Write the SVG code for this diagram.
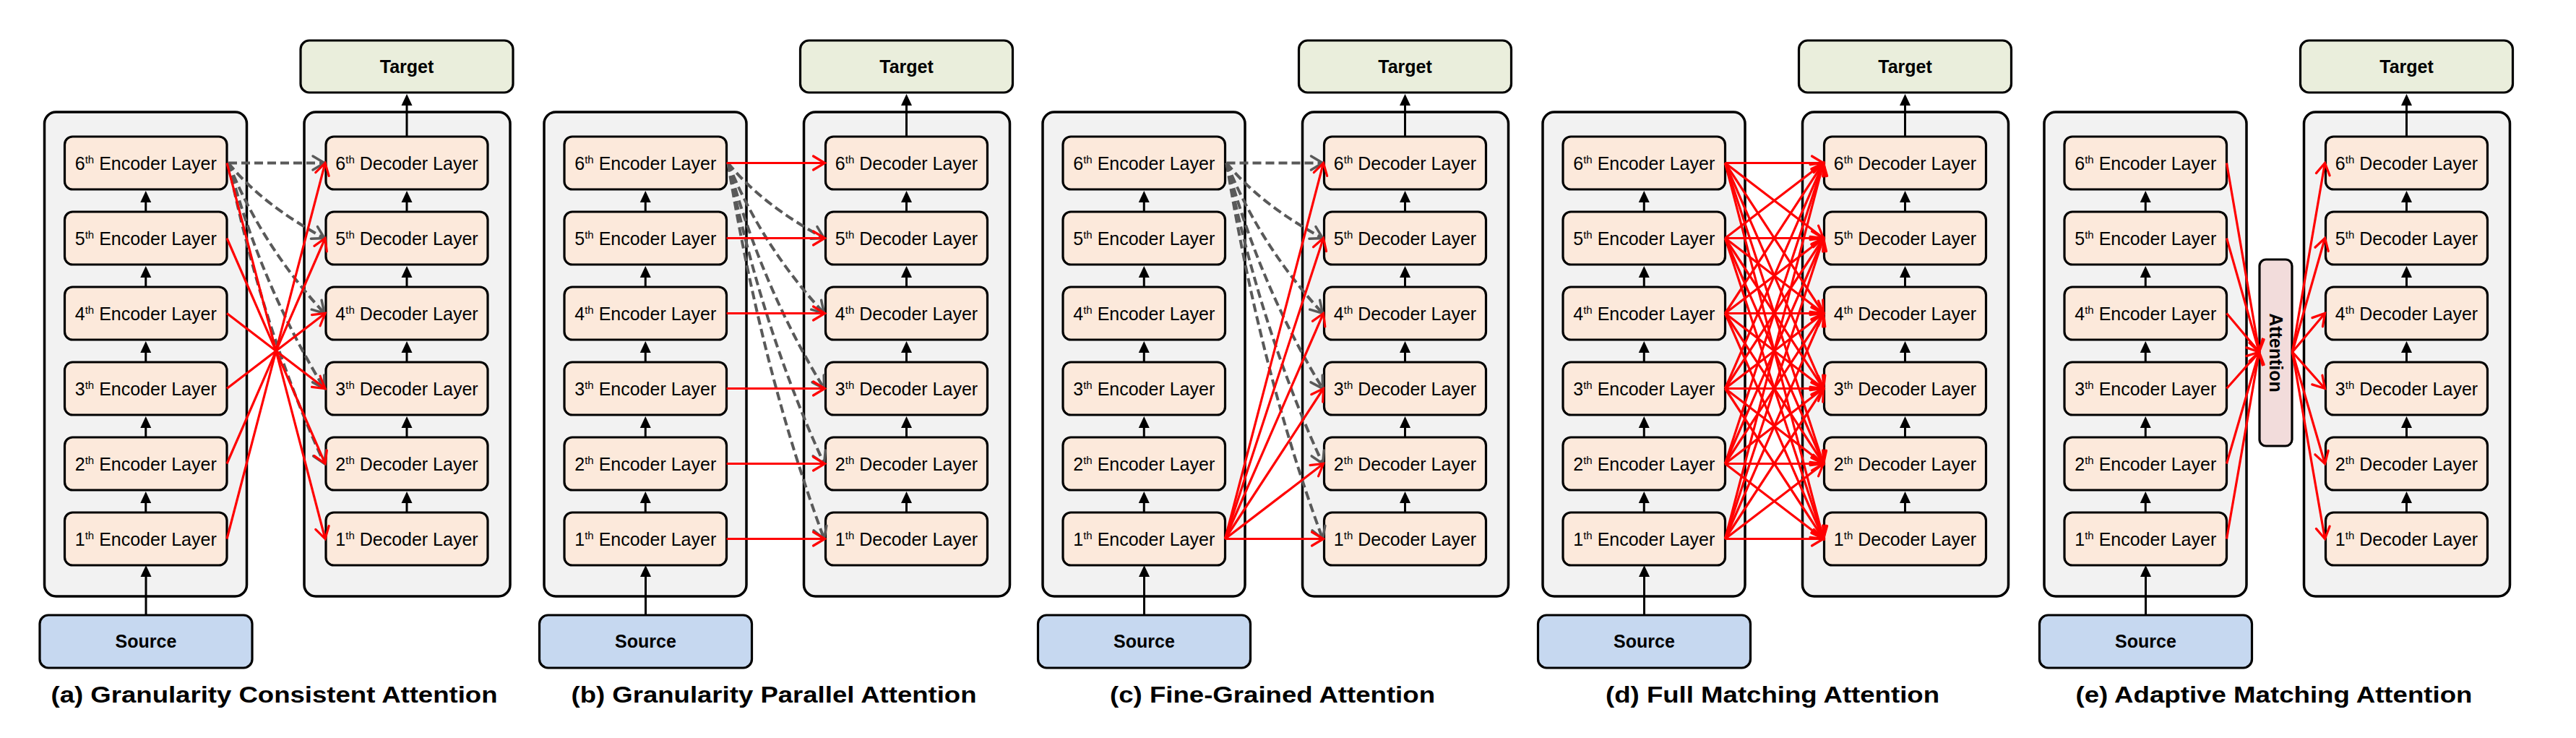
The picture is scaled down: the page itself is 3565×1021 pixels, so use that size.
<svg xmlns="http://www.w3.org/2000/svg" width="3565" height="1021" viewBox="0 0 3565 1021">
<style>
.bg{fill:#fff}
.cont{fill:#F2F2F2;stroke:#000;stroke-width:3.5}
.layer{fill:#FCE9DB;stroke:#000;stroke-width:3.2}
.tgt{fill:#EAEEDC;stroke:#000;stroke-width:3.2}
.src{fill:#C6D8F0;stroke:#000;stroke-width:3.2}
.att{fill:#F2DCDB;stroke:#000;stroke-width:3.2}
text{font-family:"Liberation Sans",Arial,Helvetica,sans-serif;fill:#000}
.lbl{font-size:25px;text-anchor:middle}
.sup{font-size:15px}
.bt{font-size:25px;font-weight:bold;text-anchor:middle}
.cap{font-size:32px;font-weight:bold;text-anchor:middle}
.up{stroke:#000;stroke-width:3;fill:none;marker-end:url(#ba)}
.red{stroke:#FF0000;stroke-width:3.2;fill:none;marker-end:url(#ra)}
.dash{stroke:#595959;stroke-width:4;stroke-dasharray:12 6;fill:none;marker-end:url(#ga)}
</style>
<defs>
<marker id="ba" markerUnits="userSpaceOnUse" viewBox="-20 -10 24 20" markerWidth="24" markerHeight="20" refX="-4" refY="0" orient="auto" overflow="visible"><path d="M0,0 L-16,-7.5 L-16,7.5 Z" fill="#000"/></marker>
<marker id="ra" markerUnits="userSpaceOnUse" viewBox="-20 -12 24 24" markerWidth="24" markerHeight="24" refX="0" refY="0" orient="auto" overflow="visible"><path d="M-16,-9.5 L0,0 L-16,9.5" fill="none" stroke="#FF0000" stroke-width="3.2" stroke-linecap="round"/></marker>
<marker id="ga" markerUnits="userSpaceOnUse" viewBox="-20 -12 24 24" markerWidth="24" markerHeight="24" refX="0" refY="0" orient="auto" overflow="visible"><path d="M-16,-9.5 L0,0 L-16,9.5" fill="none" stroke="#595959" stroke-width="3.5" stroke-linecap="round"/></marker>
</defs>
<rect class="bg" x="0" y="0" width="3565" height="1021"/>

<!-- ===== Panel (a) ===== -->
<g id="panel-a" transform="translate(0,0)">
<g id="a-enc-container"><rect class="cont" x="61.5" y="155" width="280" height="670" rx="16"/></g>
<g id="a-dec-container"><rect class="cont" x="421" y="155" width="285" height="670" rx="16"/></g>
<g id="a-target"><rect class="tgt" x="416" y="56" width="294" height="72" rx="12"/><text class="bt" x="563" y="101">Target</text></g>
<g id="a-source"><rect class="src" x="55" y="851" width="294" height="73" rx="12"/><text class="bt" x="202" y="896">Source</text></g>
<g id="a-enc6"><rect class="layer" x="89.5" y="189" width="224.5" height="73" rx="11"/><text class="lbl" x="201.75" y="235">6<tspan class="sup" dy="-9">th</tspan><tspan dy="9"> Encoder Layer</tspan></text></g>
<g id="a-enc5"><rect class="layer" x="89.5" y="293" width="224.5" height="73" rx="11"/><text class="lbl" x="201.75" y="339">5<tspan class="sup" dy="-9">th</tspan><tspan dy="9"> Encoder Layer</tspan></text></g>
<g id="a-enc4"><rect class="layer" x="89.5" y="397" width="224.5" height="73" rx="11"/><text class="lbl" x="201.75" y="443">4<tspan class="sup" dy="-9">th</tspan><tspan dy="9"> Encoder Layer</tspan></text></g>
<g id="a-enc3"><rect class="layer" x="89.5" y="501" width="224.5" height="73" rx="11"/><text class="lbl" x="201.75" y="547">3<tspan class="sup" dy="-9">th</tspan><tspan dy="9"> Encoder Layer</tspan></text></g>
<g id="a-enc2"><rect class="layer" x="89.5" y="605" width="224.5" height="73" rx="11"/><text class="lbl" x="201.75" y="651">2<tspan class="sup" dy="-9">th</tspan><tspan dy="9"> Encoder Layer</tspan></text></g>
<g id="a-enc1"><rect class="layer" x="89.5" y="709" width="224.5" height="73" rx="11"/><text class="lbl" x="201.75" y="755">1<tspan class="sup" dy="-9">th</tspan><tspan dy="9"> Encoder Layer</tspan></text></g>
<g id="a-dec6"><rect class="layer" x="451" y="189" width="224" height="73" rx="11"/><text class="lbl" x="563" y="235">6<tspan class="sup" dy="-9">th</tspan><tspan dy="9"> Decoder Layer</tspan></text></g>
<g id="a-dec5"><rect class="layer" x="451" y="293" width="224" height="73" rx="11"/><text class="lbl" x="563" y="339">5<tspan class="sup" dy="-9">th</tspan><tspan dy="9"> Decoder Layer</tspan></text></g>
<g id="a-dec4"><rect class="layer" x="451" y="397" width="224" height="73" rx="11"/><text class="lbl" x="563" y="443">4<tspan class="sup" dy="-9">th</tspan><tspan dy="9"> Decoder Layer</tspan></text></g>
<g id="a-dec3"><rect class="layer" x="451" y="501" width="224" height="73" rx="11"/><text class="lbl" x="563" y="547">3<tspan class="sup" dy="-9">th</tspan><tspan dy="9"> Decoder Layer</tspan></text></g>
<g id="a-dec2"><rect class="layer" x="451" y="605" width="224" height="73" rx="11"/><text class="lbl" x="563" y="651">2<tspan class="sup" dy="-9">th</tspan><tspan dy="9"> Decoder Layer</tspan></text></g>
<g id="a-dec1"><rect class="layer" x="451" y="709" width="224" height="73" rx="11"/><text class="lbl" x="563" y="755">1<tspan class="sup" dy="-9">th</tspan><tspan dy="9"> Decoder Layer</tspan></text></g>
<text class="cap" x="379.5" y="972" textLength="618" lengthAdjust="spacingAndGlyphs">(a) Granularity Consistent Attention</text>
</g>

<!-- ===== Panel (b) ===== -->
<g id="panel-b" transform="translate(691.5,0)">
<g id="b-enc-container"><rect class="cont" x="61.5" y="155" width="280" height="670" rx="16"/></g>
<g id="b-dec-container"><rect class="cont" x="421" y="155" width="285" height="670" rx="16"/></g>
<g id="b-target"><rect class="tgt" x="416" y="56" width="294" height="72" rx="12"/><text class="bt" x="563" y="101">Target</text></g>
<g id="b-source"><rect class="src" x="55" y="851" width="294" height="73" rx="12"/><text class="bt" x="202" y="896">Source</text></g>
<g id="b-enc6"><rect class="layer" x="89.5" y="189" width="224.5" height="73" rx="11"/><text class="lbl" x="201.75" y="235">6<tspan class="sup" dy="-9">th</tspan><tspan dy="9"> Encoder Layer</tspan></text></g>
<g id="b-enc5"><rect class="layer" x="89.5" y="293" width="224.5" height="73" rx="11"/><text class="lbl" x="201.75" y="339">5<tspan class="sup" dy="-9">th</tspan><tspan dy="9"> Encoder Layer</tspan></text></g>
<g id="b-enc4"><rect class="layer" x="89.5" y="397" width="224.5" height="73" rx="11"/><text class="lbl" x="201.75" y="443">4<tspan class="sup" dy="-9">th</tspan><tspan dy="9"> Encoder Layer</tspan></text></g>
<g id="b-enc3"><rect class="layer" x="89.5" y="501" width="224.5" height="73" rx="11"/><text class="lbl" x="201.75" y="547">3<tspan class="sup" dy="-9">th</tspan><tspan dy="9"> Encoder Layer</tspan></text></g>
<g id="b-enc2"><rect class="layer" x="89.5" y="605" width="224.5" height="73" rx="11"/><text class="lbl" x="201.75" y="651">2<tspan class="sup" dy="-9">th</tspan><tspan dy="9"> Encoder Layer</tspan></text></g>
<g id="b-enc1"><rect class="layer" x="89.5" y="709" width="224.5" height="73" rx="11"/><text class="lbl" x="201.75" y="755">1<tspan class="sup" dy="-9">th</tspan><tspan dy="9"> Encoder Layer</tspan></text></g>
<g id="b-dec6"><rect class="layer" x="451" y="189" width="224" height="73" rx="11"/><text class="lbl" x="563" y="235">6<tspan class="sup" dy="-9">th</tspan><tspan dy="9"> Decoder Layer</tspan></text></g>
<g id="b-dec5"><rect class="layer" x="451" y="293" width="224" height="73" rx="11"/><text class="lbl" x="563" y="339">5<tspan class="sup" dy="-9">th</tspan><tspan dy="9"> Decoder Layer</tspan></text></g>
<g id="b-dec4"><rect class="layer" x="451" y="397" width="224" height="73" rx="11"/><text class="lbl" x="563" y="443">4<tspan class="sup" dy="-9">th</tspan><tspan dy="9"> Decoder Layer</tspan></text></g>
<g id="b-dec3"><rect class="layer" x="451" y="501" width="224" height="73" rx="11"/><text class="lbl" x="563" y="547">3<tspan class="sup" dy="-9">th</tspan><tspan dy="9"> Decoder Layer</tspan></text></g>
<g id="b-dec2"><rect class="layer" x="451" y="605" width="224" height="73" rx="11"/><text class="lbl" x="563" y="651">2<tspan class="sup" dy="-9">th</tspan><tspan dy="9"> Decoder Layer</tspan></text></g>
<g id="b-dec1"><rect class="layer" x="451" y="709" width="224" height="73" rx="11"/><text class="lbl" x="563" y="755">1<tspan class="sup" dy="-9">th</tspan><tspan dy="9"> Decoder Layer</tspan></text></g>
<text class="cap" x="379.5" y="972" textLength="561" lengthAdjust="spacingAndGlyphs">(b) Granularity Parallel Attention</text>
</g>

<!-- ===== Panel (c) ===== -->
<g id="panel-c" transform="translate(1381.5,0)">
<g id="c-enc-container"><rect class="cont" x="61.5" y="155" width="280" height="670" rx="16"/></g>
<g id="c-dec-container"><rect class="cont" x="421" y="155" width="285" height="670" rx="16"/></g>
<g id="c-target"><rect class="tgt" x="416" y="56" width="294" height="72" rx="12"/><text class="bt" x="563" y="101">Target</text></g>
<g id="c-source"><rect class="src" x="55" y="851" width="294" height="73" rx="12"/><text class="bt" x="202" y="896">Source</text></g>
<g id="c-enc6"><rect class="layer" x="89.5" y="189" width="224.5" height="73" rx="11"/><text class="lbl" x="201.75" y="235">6<tspan class="sup" dy="-9">th</tspan><tspan dy="9"> Encoder Layer</tspan></text></g>
<g id="c-enc5"><rect class="layer" x="89.5" y="293" width="224.5" height="73" rx="11"/><text class="lbl" x="201.75" y="339">5<tspan class="sup" dy="-9">th</tspan><tspan dy="9"> Encoder Layer</tspan></text></g>
<g id="c-enc4"><rect class="layer" x="89.5" y="397" width="224.5" height="73" rx="11"/><text class="lbl" x="201.75" y="443">4<tspan class="sup" dy="-9">th</tspan><tspan dy="9"> Encoder Layer</tspan></text></g>
<g id="c-enc3"><rect class="layer" x="89.5" y="501" width="224.5" height="73" rx="11"/><text class="lbl" x="201.75" y="547">3<tspan class="sup" dy="-9">th</tspan><tspan dy="9"> Encoder Layer</tspan></text></g>
<g id="c-enc2"><rect class="layer" x="89.5" y="605" width="224.5" height="73" rx="11"/><text class="lbl" x="201.75" y="651">2<tspan class="sup" dy="-9">th</tspan><tspan dy="9"> Encoder Layer</tspan></text></g>
<g id="c-enc1"><rect class="layer" x="89.5" y="709" width="224.5" height="73" rx="11"/><text class="lbl" x="201.75" y="755">1<tspan class="sup" dy="-9">th</tspan><tspan dy="9"> Encoder Layer</tspan></text></g>
<g id="c-dec6"><rect class="layer" x="451" y="189" width="224" height="73" rx="11"/><text class="lbl" x="563" y="235">6<tspan class="sup" dy="-9">th</tspan><tspan dy="9"> Decoder Layer</tspan></text></g>
<g id="c-dec5"><rect class="layer" x="451" y="293" width="224" height="73" rx="11"/><text class="lbl" x="563" y="339">5<tspan class="sup" dy="-9">th</tspan><tspan dy="9"> Decoder Layer</tspan></text></g>
<g id="c-dec4"><rect class="layer" x="451" y="397" width="224" height="73" rx="11"/><text class="lbl" x="563" y="443">4<tspan class="sup" dy="-9">th</tspan><tspan dy="9"> Decoder Layer</tspan></text></g>
<g id="c-dec3"><rect class="layer" x="451" y="501" width="224" height="73" rx="11"/><text class="lbl" x="563" y="547">3<tspan class="sup" dy="-9">th</tspan><tspan dy="9"> Decoder Layer</tspan></text></g>
<g id="c-dec2"><rect class="layer" x="451" y="605" width="224" height="73" rx="11"/><text class="lbl" x="563" y="651">2<tspan class="sup" dy="-9">th</tspan><tspan dy="9"> Decoder Layer</tspan></text></g>
<g id="c-dec1"><rect class="layer" x="451" y="709" width="224" height="73" rx="11"/><text class="lbl" x="563" y="755">1<tspan class="sup" dy="-9">th</tspan><tspan dy="9"> Decoder Layer</tspan></text></g>
<text class="cap" x="379.5" y="972" textLength="450" lengthAdjust="spacingAndGlyphs">(c) Fine-Grained Attention</text>
</g>

<!-- ===== Panel (d) ===== -->
<g id="panel-d" transform="translate(2073.5,0)">
<g id="d-enc-container"><rect class="cont" x="61.5" y="155" width="280" height="670" rx="16"/></g>
<g id="d-dec-container"><rect class="cont" x="421" y="155" width="285" height="670" rx="16"/></g>
<g id="d-target"><rect class="tgt" x="416" y="56" width="294" height="72" rx="12"/><text class="bt" x="563" y="101">Target</text></g>
<g id="d-source"><rect class="src" x="55" y="851" width="294" height="73" rx="12"/><text class="bt" x="202" y="896">Source</text></g>
<g id="d-enc6"><rect class="layer" x="89.5" y="189" width="224.5" height="73" rx="11"/><text class="lbl" x="201.75" y="235">6<tspan class="sup" dy="-9">th</tspan><tspan dy="9"> Encoder Layer</tspan></text></g>
<g id="d-enc5"><rect class="layer" x="89.5" y="293" width="224.5" height="73" rx="11"/><text class="lbl" x="201.75" y="339">5<tspan class="sup" dy="-9">th</tspan><tspan dy="9"> Encoder Layer</tspan></text></g>
<g id="d-enc4"><rect class="layer" x="89.5" y="397" width="224.5" height="73" rx="11"/><text class="lbl" x="201.75" y="443">4<tspan class="sup" dy="-9">th</tspan><tspan dy="9"> Encoder Layer</tspan></text></g>
<g id="d-enc3"><rect class="layer" x="89.5" y="501" width="224.5" height="73" rx="11"/><text class="lbl" x="201.75" y="547">3<tspan class="sup" dy="-9">th</tspan><tspan dy="9"> Encoder Layer</tspan></text></g>
<g id="d-enc2"><rect class="layer" x="89.5" y="605" width="224.5" height="73" rx="11"/><text class="lbl" x="201.75" y="651">2<tspan class="sup" dy="-9">th</tspan><tspan dy="9"> Encoder Layer</tspan></text></g>
<g id="d-enc1"><rect class="layer" x="89.5" y="709" width="224.5" height="73" rx="11"/><text class="lbl" x="201.75" y="755">1<tspan class="sup" dy="-9">th</tspan><tspan dy="9"> Encoder Layer</tspan></text></g>
<g id="d-dec6"><rect class="layer" x="451" y="189" width="224" height="73" rx="11"/><text class="lbl" x="563" y="235">6<tspan class="sup" dy="-9">th</tspan><tspan dy="9"> Decoder Layer</tspan></text></g>
<g id="d-dec5"><rect class="layer" x="451" y="293" width="224" height="73" rx="11"/><text class="lbl" x="563" y="339">5<tspan class="sup" dy="-9">th</tspan><tspan dy="9"> Decoder Layer</tspan></text></g>
<g id="d-dec4"><rect class="layer" x="451" y="397" width="224" height="73" rx="11"/><text class="lbl" x="563" y="443">4<tspan class="sup" dy="-9">th</tspan><tspan dy="9"> Decoder Layer</tspan></text></g>
<g id="d-dec3"><rect class="layer" x="451" y="501" width="224" height="73" rx="11"/><text class="lbl" x="563" y="547">3<tspan class="sup" dy="-9">th</tspan><tspan dy="9"> Decoder Layer</tspan></text></g>
<g id="d-dec2"><rect class="layer" x="451" y="605" width="224" height="73" rx="11"/><text class="lbl" x="563" y="651">2<tspan class="sup" dy="-9">th</tspan><tspan dy="9"> Decoder Layer</tspan></text></g>
<g id="d-dec1"><rect class="layer" x="451" y="709" width="224" height="73" rx="11"/><text class="lbl" x="563" y="755">1<tspan class="sup" dy="-9">th</tspan><tspan dy="9"> Decoder Layer</tspan></text></g>
<text class="cap" x="379.5" y="972" textLength="462" lengthAdjust="spacingAndGlyphs">(d) Full Matching Attention</text>
</g>

<!-- ===== Panel (e) ===== -->
<g id="panel-e" transform="translate(2767.5,0)">
<g id="e-enc-container"><rect class="cont" x="61.5" y="155" width="280" height="670" rx="16"/></g>
<g id="e-dec-container"><rect class="cont" x="421" y="155" width="285" height="670" rx="16"/></g>
<g id="e-target"><rect class="tgt" x="416" y="56" width="294" height="72" rx="12"/><text class="bt" x="563" y="101">Target</text></g>
<g id="e-source"><rect class="src" x="55" y="851" width="294" height="73" rx="12"/><text class="bt" x="202" y="896">Source</text></g>
<g id="e-enc6"><rect class="layer" x="89.5" y="189" width="224.5" height="73" rx="11"/><text class="lbl" x="201.75" y="235">6<tspan class="sup" dy="-9">th</tspan><tspan dy="9"> Encoder Layer</tspan></text></g>
<g id="e-enc5"><rect class="layer" x="89.5" y="293" width="224.5" height="73" rx="11"/><text class="lbl" x="201.75" y="339">5<tspan class="sup" dy="-9">th</tspan><tspan dy="9"> Encoder Layer</tspan></text></g>
<g id="e-enc4"><rect class="layer" x="89.5" y="397" width="224.5" height="73" rx="11"/><text class="lbl" x="201.75" y="443">4<tspan class="sup" dy="-9">th</tspan><tspan dy="9"> Encoder Layer</tspan></text></g>
<g id="e-enc3"><rect class="layer" x="89.5" y="501" width="224.5" height="73" rx="11"/><text class="lbl" x="201.75" y="547">3<tspan class="sup" dy="-9">th</tspan><tspan dy="9"> Encoder Layer</tspan></text></g>
<g id="e-enc2"><rect class="layer" x="89.5" y="605" width="224.5" height="73" rx="11"/><text class="lbl" x="201.75" y="651">2<tspan class="sup" dy="-9">th</tspan><tspan dy="9"> Encoder Layer</tspan></text></g>
<g id="e-enc1"><rect class="layer" x="89.5" y="709" width="224.5" height="73" rx="11"/><text class="lbl" x="201.75" y="755">1<tspan class="sup" dy="-9">th</tspan><tspan dy="9"> Encoder Layer</tspan></text></g>
<g id="e-dec6"><rect class="layer" x="451" y="189" width="224" height="73" rx="11"/><text class="lbl" x="563" y="235">6<tspan class="sup" dy="-9">th</tspan><tspan dy="9"> Decoder Layer</tspan></text></g>
<g id="e-dec5"><rect class="layer" x="451" y="293" width="224" height="73" rx="11"/><text class="lbl" x="563" y="339">5<tspan class="sup" dy="-9">th</tspan><tspan dy="9"> Decoder Layer</tspan></text></g>
<g id="e-dec4"><rect class="layer" x="451" y="397" width="224" height="73" rx="11"/><text class="lbl" x="563" y="443">4<tspan class="sup" dy="-9">th</tspan><tspan dy="9"> Decoder Layer</tspan></text></g>
<g id="e-dec3"><rect class="layer" x="451" y="501" width="224" height="73" rx="11"/><text class="lbl" x="563" y="547">3<tspan class="sup" dy="-9">th</tspan><tspan dy="9"> Decoder Layer</tspan></text></g>
<g id="e-dec2"><rect class="layer" x="451" y="605" width="224" height="73" rx="11"/><text class="lbl" x="563" y="651">2<tspan class="sup" dy="-9">th</tspan><tspan dy="9"> Decoder Layer</tspan></text></g>
<g id="e-dec1"><rect class="layer" x="451" y="709" width="224" height="73" rx="11"/><text class="lbl" x="563" y="755">1<tspan class="sup" dy="-9">th</tspan><tspan dy="9"> Decoder Layer</tspan></text></g>
<g id="e-attention"><rect class="att" x="359.5" y="359" width="45" height="258" rx="9"/><text class="bt" transform="translate(382,488) rotate(90)" x="0" y="9">Attention</text></g>
<text class="cap" x="379.5" y="972" textLength="549" lengthAdjust="spacingAndGlyphs">(e) Adaptive Matching Attention</text>
</g>

<!-- ===== Connectors ===== -->
<g id="connectors">
<g id="a-edges" transform="translate(0,0)">
<path class="up" d="M202,851 L202,786"/><path class="up" d="M201.75,709 L201.75,684"/><path class="up" d="M201.75,605 L201.75,580"/><path class="up" d="M201.75,501 L201.75,476"/><path class="up" d="M201.75,397 L201.75,372"/><path class="up" d="M201.75,293 L201.75,268"/>
<path class="up" d="M563,709 L563,684"/><path class="up" d="M563,605 L563,580"/><path class="up" d="M563,501 L563,476"/><path class="up" d="M563,397 L563,372"/><path class="up" d="M563,293 L563,268"/><path class="up" d="M563,189 L563,134"/>
<path class="dash" d="M316,225.5 L449,225.5"/>
<path class="dash" d="M316,225.5 Q362.5,282.7 449,329.5"/>
<path class="dash" d="M316,225.5 Q362.5,339.9 449,433.5"/>
<path class="dash" d="M316,225.5 Q362.5,397.1 449,537.5"/>
<path class="dash" d="M316,225.5 Q362.5,454.3 449,641.5"/>
<path class="red" d="M314,745.5 L450,225.5"/>
<path class="red" d="M314,641.5 L450,329.5"/>
<path class="red" d="M314,537.5 L450,433.5"/>
<path class="red" d="M314,433.5 L450,537.5"/>
<path class="red" d="M314,329.5 L450,641.5"/>
<path class="red" d="M314,225.5 L450,745.5"/>
</g>
<g id="b-edges" transform="translate(691.5,0)">
<path class="up" d="M202,851 L202,786"/><path class="up" d="M201.75,709 L201.75,684"/><path class="up" d="M201.75,605 L201.75,580"/><path class="up" d="M201.75,501 L201.75,476"/><path class="up" d="M201.75,397 L201.75,372"/><path class="up" d="M201.75,293 L201.75,268"/>
<path class="up" d="M563,709 L563,684"/><path class="up" d="M563,605 L563,580"/><path class="up" d="M563,501 L563,476"/><path class="up" d="M563,397 L563,372"/><path class="up" d="M563,293 L563,268"/><path class="up" d="M563,189 L563,134"/>
<path class="dash" d="M316,225.5 Q362.5,282.7 449,329.5"/>
<path class="dash" d="M316,225.5 Q362.5,339.9 449,433.5"/>
<path class="dash" d="M316,225.5 Q362.5,397.1 449,537.5"/>
<path class="dash" d="M316,225.5 Q362.5,454.3 449,641.5"/>
<path class="dash" d="M316,225.5 Q362.5,511.5 449,745.5"/>
<path class="red" d="M314,225.5 L450,225.5"/>
<path class="red" d="M314,329.5 L450,329.5"/>
<path class="red" d="M314,433.5 L450,433.5"/>
<path class="red" d="M314,537.5 L450,537.5"/>
<path class="red" d="M314,641.5 L450,641.5"/>
<path class="red" d="M314,745.5 L450,745.5"/>
</g>
<g id="c-edges" transform="translate(1381.5,0)">
<path class="up" d="M202,851 L202,786"/><path class="up" d="M201.75,709 L201.75,684"/><path class="up" d="M201.75,605 L201.75,580"/><path class="up" d="M201.75,501 L201.75,476"/><path class="up" d="M201.75,397 L201.75,372"/><path class="up" d="M201.75,293 L201.75,268"/>
<path class="up" d="M563,709 L563,684"/><path class="up" d="M563,605 L563,580"/><path class="up" d="M563,501 L563,476"/><path class="up" d="M563,397 L563,372"/><path class="up" d="M563,293 L563,268"/><path class="up" d="M563,189 L563,134"/>
<path class="dash" d="M316,225.5 L449,225.5"/>
<path class="dash" d="M316,225.5 Q362.5,282.7 449,329.5"/>
<path class="dash" d="M316,225.5 Q362.5,339.9 449,433.5"/>
<path class="dash" d="M316,225.5 Q362.5,397.1 449,537.5"/>
<path class="dash" d="M316,225.5 Q362.5,454.3 449,641.5"/>
<path class="dash" d="M316,225.5 Q362.5,511.5 449,745.5"/>
<path class="red" d="M314,745.5 L450,225.5"/>
<path class="red" d="M314,745.5 L450,329.5"/>
<path class="red" d="M314,745.5 L450,433.5"/>
<path class="red" d="M314,745.5 L450,537.5"/>
<path class="red" d="M314,745.5 L450,641.5"/>
<path class="red" d="M314,745.5 L450,745.5"/>
</g>
<g id="d-edges" transform="translate(2073.5,0)">
<path class="up" d="M202,851 L202,786"/><path class="up" d="M201.75,709 L201.75,684"/><path class="up" d="M201.75,605 L201.75,580"/><path class="up" d="M201.75,501 L201.75,476"/><path class="up" d="M201.75,397 L201.75,372"/><path class="up" d="M201.75,293 L201.75,268"/>
<path class="up" d="M563,709 L563,684"/><path class="up" d="M563,605 L563,580"/><path class="up" d="M563,501 L563,476"/><path class="up" d="M563,397 L563,372"/><path class="up" d="M563,293 L563,268"/><path class="up" d="M563,189 L563,134"/>
<path class="red" d="M314,225.5 L450,225.5"/><path class="red" d="M314,225.5 L450,329.5"/><path class="red" d="M314,225.5 L450,433.5"/><path class="red" d="M314,225.5 L450,537.5"/><path class="red" d="M314,225.5 L450,641.5"/><path class="red" d="M314,225.5 L450,745.5"/>
<path class="red" d="M314,329.5 L450,225.5"/><path class="red" d="M314,329.5 L450,329.5"/><path class="red" d="M314,329.5 L450,433.5"/><path class="red" d="M314,329.5 L450,537.5"/><path class="red" d="M314,329.5 L450,641.5"/><path class="red" d="M314,329.5 L450,745.5"/>
<path class="red" d="M314,433.5 L450,225.5"/><path class="red" d="M314,433.5 L450,329.5"/><path class="red" d="M314,433.5 L450,433.5"/><path class="red" d="M314,433.5 L450,537.5"/><path class="red" d="M314,433.5 L450,641.5"/><path class="red" d="M314,433.5 L450,745.5"/>
<path class="red" d="M314,537.5 L450,225.5"/><path class="red" d="M314,537.5 L450,329.5"/><path class="red" d="M314,537.5 L450,433.5"/><path class="red" d="M314,537.5 L450,537.5"/><path class="red" d="M314,537.5 L450,641.5"/><path class="red" d="M314,537.5 L450,745.5"/>
<path class="red" d="M314,641.5 L450,225.5"/><path class="red" d="M314,641.5 L450,329.5"/><path class="red" d="M314,641.5 L450,433.5"/><path class="red" d="M314,641.5 L450,537.5"/><path class="red" d="M314,641.5 L450,641.5"/><path class="red" d="M314,641.5 L450,745.5"/>
<path class="red" d="M314,745.5 L450,225.5"/><path class="red" d="M314,745.5 L450,329.5"/><path class="red" d="M314,745.5 L450,433.5"/><path class="red" d="M314,745.5 L450,537.5"/><path class="red" d="M314,745.5 L450,641.5"/><path class="red" d="M314,745.5 L450,745.5"/>
</g>
<g id="e-edges" transform="translate(2767.5,0)">
<path class="up" d="M202,851 L202,786"/><path class="up" d="M201.75,709 L201.75,684"/><path class="up" d="M201.75,605 L201.75,580"/><path class="up" d="M201.75,501 L201.75,476"/><path class="up" d="M201.75,397 L201.75,372"/><path class="up" d="M201.75,293 L201.75,268"/>
<path class="up" d="M563,709 L563,684"/><path class="up" d="M563,605 L563,580"/><path class="up" d="M563,501 L563,476"/><path class="up" d="M563,397 L563,372"/><path class="up" d="M563,293 L563,268"/><path class="up" d="M563,189 L563,134"/>
<path class="red" d="M314,225.5 L359,487"/><path class="red" d="M314,329.5 L359,487"/><path class="red" d="M314,433.5 L359,487"/><path class="red" d="M314,537.5 L359,487"/><path class="red" d="M314,641.5 L359,487"/><path class="red" d="M314,745.5 L359,487"/>
<path class="red" d="M405,487 L450,225.5"/><path class="red" d="M405,487 L450,329.5"/><path class="red" d="M405,487 L450,433.5"/><path class="red" d="M405,487 L450,537.5"/><path class="red" d="M405,487 L450,641.5"/><path class="red" d="M405,487 L450,745.5"/>
</g>
</g>
</svg>
